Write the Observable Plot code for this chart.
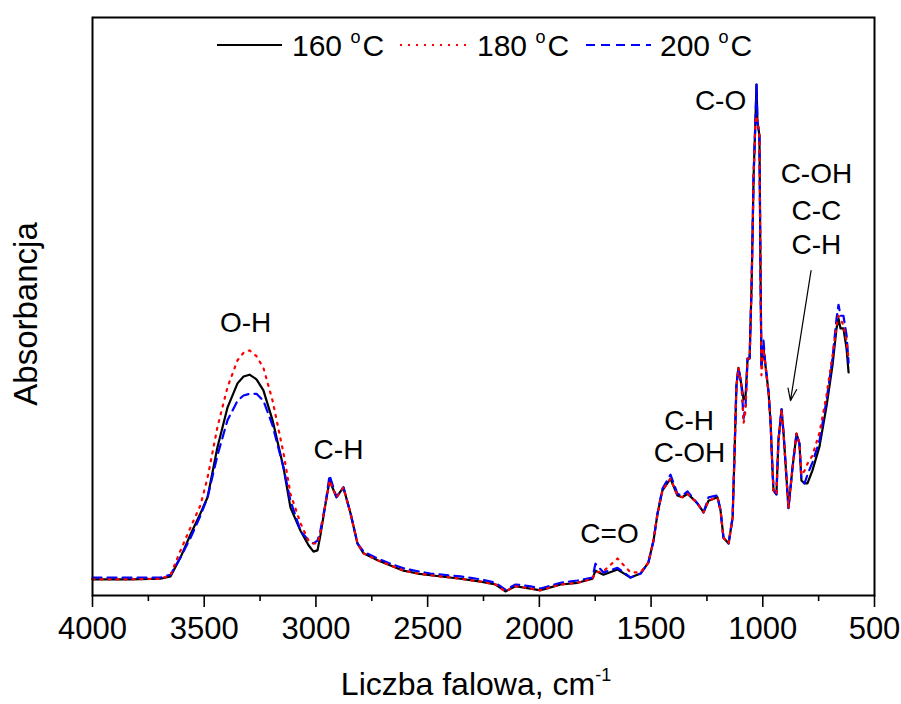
<!DOCTYPE html>
<html><head><meta charset="utf-8">
<script src="https://cdn.jsdelivr.net/npm/d3@7"></script>
<script src="https://cdn.jsdelivr.net/npm/@observablehq/plot@0.6"></script>
<style>body{margin:0;background:#fff;} #chart{font-family:"Liberation Sans",Arial,sans-serif;}</style>
</head><body><div id="chart"></div>
<script>
const wavenumber = [4000,3830,3696,3651,3606,3561,3517,3485,3441,3396,
3351,3324,3297,3266,3235,3194,3145,3114,3069,3033,
3011,2993,2980,2957,2939,2908,2877,2845,2814,2787,
2724,2666,2608,2545,2487,2353,2263,2196,2152,2107,
2040,1995,1950,1905,1829,1762,1749,1713,1650,1592,
1547,1512,1489,1471,1449,1413,1382,1360,1337,1315,
1292,1265,1243,1203,1189,1176,1153,1135,1127,1118,
1109,1095,1086,1077,1068,1059,1050,1041,1033,1028,
1024,1015,1010,1006,997,988,974,965,957,952,
939,930,916,907,894,885,867,849,836,827,
813,800,778,746,715,688,670,661,652,639,
625,616];

const abs160 = [0.028,0.028,0.029,0.033,0.066,0.106,0.142,0.170,0.256,0.325,
0.367,0.379,0.382,0.374,0.355,0.303,0.221,0.152,0.112,0.087,
0.076,0.078,0.104,0.159,0.199,0.170,0.187,0.142,0.090,0.073,
0.061,0.052,0.043,0.038,0.035,0.029,0.024,0.019,0.007,0.016,
0.012,0.009,0.014,0.019,0.022,0.029,0.043,0.036,0.045,0.031,
0.038,0.057,0.095,0.142,0.182,0.202,0.173,0.170,0.176,0.168,
0.159,0.144,0.164,0.170,0.147,0.100,0.090,0.135,0.239,0.363,
0.394,0.363,0.339,0.346,0.410,0.410,0.538,0.727,0.820,0.884,
0.820,0.796,0.550,0.398,0.427,0.398,0.351,0.298,0.221,0.182,
0.175,0.268,0.322,0.280,0.204,0.151,0.221,0.280,0.263,0.199,
0.194,0.194,0.216,0.258,0.327,0.398,0.462,0.479,0.462,0.462,
0.427,0.386];

const abs180 = [0.028,0.028,0.029,0.035,0.078,0.118,0.156,0.204,0.291,0.360,
0.407,0.420,0.424,0.414,0.394,0.337,0.246,0.176,0.125,0.095,
0.090,0.090,0.109,0.159,0.199,0.170,0.187,0.142,0.090,0.073,
0.061,0.052,0.043,0.038,0.035,0.029,0.024,0.019,0.007,0.016,
0.012,0.009,0.014,0.019,0.022,0.029,0.040,0.042,0.064,0.040,
0.040,0.057,0.095,0.142,0.182,0.202,0.173,0.170,0.176,0.168,
0.159,0.144,0.164,0.170,0.147,0.100,0.090,0.135,0.239,0.363,
0.394,0.363,0.298,0.320,0.410,0.410,0.538,0.727,0.820,0.830,
0.820,0.796,0.550,0.381,0.427,0.398,0.351,0.298,0.221,0.182,
0.175,0.268,0.322,0.280,0.204,0.151,0.221,0.280,0.263,0.208,
0.216,0.228,0.242,0.282,0.346,0.415,0.467,0.484,0.479,0.467,
0.441,0.410];

const abs200 = [0.031,0.031,0.031,0.036,0.066,0.100,0.138,0.170,0.242,0.303,
0.337,0.346,0.349,0.349,0.337,0.294,0.221,0.164,0.112,0.095,
0.090,0.095,0.112,0.159,0.208,0.170,0.187,0.142,0.090,0.076,
0.064,0.055,0.047,0.042,0.038,0.033,0.028,0.022,0.010,0.019,
0.016,0.012,0.017,0.022,0.026,0.031,0.055,0.040,0.048,0.031,
0.038,0.057,0.095,0.142,0.185,0.209,0.176,0.173,0.180,0.170,
0.159,0.144,0.170,0.173,0.147,0.100,0.090,0.135,0.239,0.363,
0.394,0.363,0.306,0.329,0.410,0.410,0.538,0.727,0.820,0.884,
0.820,0.796,0.550,0.398,0.441,0.398,0.351,0.298,0.221,0.182,
0.175,0.268,0.322,0.280,0.204,0.151,0.221,0.280,0.263,0.199,
0.194,0.209,0.230,0.268,0.337,0.410,0.479,0.503,0.484,0.484,
0.450,0.403];

const seriesNames = ["160", "180", "200"];
const majorTicks = [4000,3500,3000,2500,2000,1500,1000,500];
const minorTicks = [3750,3250,2750,2250,1750,1250,750];

const annText = ["O-H","C-H","C=O","C-H","C-OH","C-O","C-OH","C-C","C-H"];
const annWn   = [3315, 2899, 1686, 1330, 1328, 1189, 760, 760, 760];
const annAbs  = [0.472,0.251,0.106,0.301,0.247,0.856,0.730,0.666,0.607];

const arrowFrom = {wn: 784, a: 0.562};
const arrowTo   = {wn: 876, a: 0.337};

const rows = (vals) => wavenumber.map((w, i) => ({wn: w, a: vals[i]}));
const ann = annText.map((t, i) => ({text: t, wn: annWn[i], a: annAbs[i]}));

const chart = Plot.plot({
  width: 901, height: 704,
  marginLeft: 92, marginRight: 27, marginTop: 17, marginBottom: 109,
  style: {fontFamily: "Liberation Sans, Arial, sans-serif", background: "white", color: "black", overflow: "visible"},
  x: {domain: [4000, 500], label: null},
  y: {domain: [0, 1], axis: null},
  marks: [
    Plot.axisX({ticks: minorTicks, tickSize: 6, tickFormat: () => "", strokeWidth: 1.6, label: null}),
    Plot.axisX({ticks: majorTicks, tickSize: 12, tickPadding: 9, fontSize: 31, strokeWidth: 1.6, label: null, tickFormat: d => String(d)}),
    Plot.line(rows(abs160), {x: "wn", y: "a", stroke: "black", strokeWidth: 2.2}),
    Plot.line(rows(abs200), {x: "wn", y: "a", stroke: "#0000ff", strokeWidth: 2.2, strokeDasharray: "9,6"}),
    Plot.line(rows(abs180), {x: "wn", y: "a", stroke: "#ff0000", strokeWidth: 2.2, strokeDasharray: "2,6"}),
    Plot.frame({stroke: "black", strokeWidth: 2}),
    Plot.text(ann, {x: "wn", y: "a", text: "text", fontSize: 28, fill: "black"}),
    Plot.arrow([{x1: arrowFrom.wn, y1: arrowFrom.a, x2: arrowTo.wn, y2: arrowTo.a}],
      {x1: "x1", y1: "y1", x2: "x2", y2: "y2", stroke: "black", strokeWidth: 1.2, headLength: 16, headAngle: 40})
  ]
});

const svg = d3.select(chart);
// legend
const legend = [
  {name: seriesNames[0], x0: 217, x1: 282, tx: 292, stroke: "black", dash: null},
  {name: seriesNames[1], x0: 400, x1: 467, tx: 477, stroke: "#ff0000", dash: "2,6"},
  {name: seriesNames[2], x0: 586, x1: 651, tx: 660, stroke: "#0000ff", dash: "9,6"}
];
const lg = svg.append("g").attr("font-family", "Liberation Sans, Arial, sans-serif").attr("text-anchor", "start");
legend.forEach(d => {
  lg.append("line").attr("x1", d.x0).attr("x2", d.x1).attr("y1", 45).attr("y2", 45)
    .attr("stroke", d.stroke).attr("stroke-width", 2.2).attr("stroke-dasharray", d.dash);
  const t = lg.append("text").attr("x", d.tx).attr("y", 56).attr("font-size", 30).attr("fill", "black").attr("text-anchor", "start");
  t.append("tspan").text(d.name + " ");
  t.append("tspan").attr("font-size", 18).attr("dy", -13).text("o");
  t.append("tspan").attr("dy", 13).attr("dx", 2).text("C");
});
// x title
const xt = svg.append("text").attr("x", 476).attr("y", 695).attr("text-anchor", "middle")
  .attr("font-size", 32).attr("fill", "black").attr("font-family", "Liberation Sans, Arial, sans-serif");
xt.append("tspan").text("Liczba falowa, cm");
xt.append("tspan").attr("font-size", 18).attr("dy", -14).text("-1");
// y title
svg.append("text").attr("transform", "translate(37,314) rotate(-90)").attr("text-anchor", "middle")
  .attr("font-size", 33).attr("fill", "black").attr("font-family", "Liberation Sans, Arial, sans-serif")
  .text("Absorbancja");

document.getElementById("chart").appendChild(chart);
</script>
</body></html>
